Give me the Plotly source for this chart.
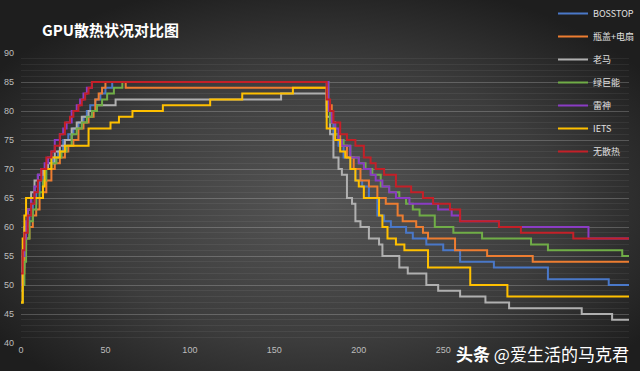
import base64
import plotly.graph_objects as go

# ---- data (time in s, temperature in °C), step breakpoints ----
BOSSTOP_T = [0,1,2,3,5,7,9,11,13,16,19,22,25,28,31,34,37,39,41,44,47,50,54,181,183,185,188,191,195,198,202,206,211,215,219,228,232,240,250,260,280,312,348,360]
BOSSTOP_V = [49,53,57,60,62,64,66,68,70,71,72,73,75,76,77,78,79,80,81,82,83,84,85,80,78,76,74,72,70,68,67,65,62,61,60,59,58,57,56,54,53,51,50,50]

PINGGAI_T = [0,1,2,3,5,7,9,11,13,15,18,20,23,26,28,31,34,37,40,43,44,46,48,50,62,181,184,186,189,193,197,201,206,211,216,223,226,234,238,241,257,276,303,360]
PINGGAI_V = [47,52,56,58,60,62,63,65,66,68,70,71,72,73,74,75,77,78,79,80,82,83,84,85,84,81,78,76,74,72,70,68,67,65,64,62,61,60,59,58,56,55,54,54]

LAOMA_T = [0,1,2,4,6,8,10,13,16,20,23,26,30,33,36,40,45,56,154,181,183,185,188,190,193,196,198,201,206,212,214,224,229,240,247,260,275,289,332,350,360]
LAOMA_V = [50,56,60,63,66,68,69,70,71,73,74,75,77,78,79,80,81,82,83,79,76,72,70,69,65,64,61,60,58,57,55,53,52,50,49,48,47,46,45,44,44]

LVJUNENG_T = [0,1,2,3,5,7,9,11,13,15,18,21,24,27,30,33,36,39,42,45,48,51,55,60,182,183,186,188,191,195,200,204,208,213,218,224,228,232,236,245,256,273,302,312,356,360]
LVJUNENG_V = [47,50,54,58,61,63,65,66,68,70,71,72,73,74,76,77,78,79,80,81,82,83,84,85,80,78,76,75,74,72,71,70,69,67,66,65,64,63,62,60,59,58,57,56,55,55]

LEISHEN_T = [0,1,2,3,4,6,8,10,12,14,16,18,20,23,25,27,30,33,35,37,39,42,182,184,186,188,190,195,200,203,207,210,214,218,222,230,247,255,260,283,336,360]
LEISHEN_V = [50,55,58,61,63,65,67,69,70,71,72,73,75,76,77,78,80,81,82,83,84,85,80,78,77,75,74,72,71,70,69,68,67,66,65,64,63,62,61,60,58,58]

IETS_T = [0,1,2,3,13,14,18,23,26,40,53,58,66,84,112,131,161,181,186,189,192,195,198,200,203,212,214,217,222,227,241,266,288,360]
IETS_V = [47,58,62,65,67,70,72,73,74,77,78,79,80,81,82,83,84,77,75,73,72,70,68,67,65,62,60,58,57,56,53,50,48,48]

WUSANRE_T = [0,1,2,4,6,8,10,12,15,18,20,23,26,29,31,34,36,38,40,42,181,183,185,189,193,198,203,207,210,215,222,231,238,244,254,260,283,296,327,360]
WUSANRE_V = [52,56,59,62,64,66,68,70,72,73,74,76,78,79,80,81,82,83,84,85,82,80,78,76,75,74,72,71,70,69,67,66,65,64,63,61,60,59,58,58]

SERIES_NAMES = ["BOSSTOP", "瓶盖+电扇", "老马", "绿巨能", "雷神", "IETS", "无散热"]
SERIES_T = [BOSSTOP_T, PINGGAI_T, LAOMA_T, LVJUNENG_T, LEISHEN_T, IETS_T, WUSANRE_T]
SERIES_V = [BOSSTOP_V, PINGGAI_V, LAOMA_V, LVJUNENG_V, LEISHEN_V, IETS_V, WUSANRE_V]
COLORS = ["#4a78c8", "#ed7d31", "#b0b0b0", "#70ad47", "#8a3cc4", "#ffc000", "#c42028"]

X_TICKS = [0, 50, 100, 150, 200, 250]
Y_TICKS = [40, 45, 50, 55, 60, 65, 70, 75, 80, 85, 90]

TITLE = "GPU散热状况对比图"
WATERMARK = "<b>头条</b> @爱生活的马克君"

# ---- figure ----
W, H = 640, 371
ML, MR, MT, MB = 21, 11, 53, 28
PW, PH = W - ML - MR, H - MT - MB

fig = go.Figure()
for name, t, v, c in zip(SERIES_NAMES, SERIES_T, SERIES_V, COLORS):
    fig.add_trace(go.Scatter(x=t, y=v, name=name, mode="lines", legendgroup=name,
                             line=dict(color=c, width=2, shape="hv")))

svg = ('<svg xmlns="http://www.w3.org/2000/svg" width="640" height="371">'
       '<defs><radialGradient id="g" cx="50%" cy="55%" r="62%">'
       '<stop offset="0" stop-color="#545454"/><stop offset="0.6" stop-color="#3c3c3c"/>'
       '<stop offset="1" stop-color="#1e1e1e"/></radialGradient></defs>'
       '<rect width="640" height="371" fill="url(#g)"/></svg>')
src = "data:image/svg+xml;base64," + base64.b64encode(svg.encode()).decode()

fig.add_layout_image(dict(source=src, xref="paper", yref="paper",
                          x=-ML / PW, y=1 + MT / PH, sizex=W / PW, sizey=H / PH,
                          xanchor="left", yanchor="top", sizing="stretch", layer="below"))

fig.update_layout(
    width=W, height=H,
    margin=dict(l=ML, r=MR, t=MT, b=MB, autoexpand=False),
    paper_bgcolor="#2e2e2e", plot_bgcolor="rgba(0,0,0,0)",
    font=dict(family="Noto Sans CJK SC, Liberation Sans, sans-serif", color="#dddddd"),
    showlegend=True,
    legend=dict(x=(553 - ML) / PW, y=1 + (MT + 1) / PH, xanchor="left", yanchor="top",
                bgcolor="rgba(0,0,0,0)", font=dict(size=9, color="#e0e0e0"),
                tracegroupgap=4, itemwidth=30, traceorder="grouped"),
    annotations=[
        dict(text="<b>" + TITLE + "</b>", xref="paper", yref="paper",
             x=(40 - ML) / PW, y=1 + (MT - 30) / PH, xanchor="left", yanchor="middle",
             showarrow=False, font=dict(size=15, color="#ffffff")),
        dict(text=WATERMARK, xref="paper", yref="paper",
             x=(631 - ML) / PW, y=-(353 - (H - MB)) / PH, xanchor="right", yanchor="middle",
             showarrow=False, font=dict(size=17, color="#ffffff")),
    ],
)
fig.update_xaxes(range=[0, 360], showgrid=False, zeroline=False, showline=False,
                 automargin=False, tickvals=X_TICKS,
                 tickfont=dict(size=9, color="#bdbdbd", family="Liberation Sans, sans-serif"))
fig.update_yaxes(range=[40, 90], tickvals=Y_TICKS, showgrid=True, automargin=False,
                 gridcolor="rgba(255,255,255,0.16)", gridwidth=1, zeroline=False,
                 showline=False, ticklabelstandoff=6,
                 tickfont=dict(size=9, color="#bdbdbd", family="Liberation Sans, sans-serif"),
                 minor=dict(dtick=1, showgrid=True, gridcolor="rgba(255,255,255,0.06)", gridwidth=1))

fig.write_html("out.html")
